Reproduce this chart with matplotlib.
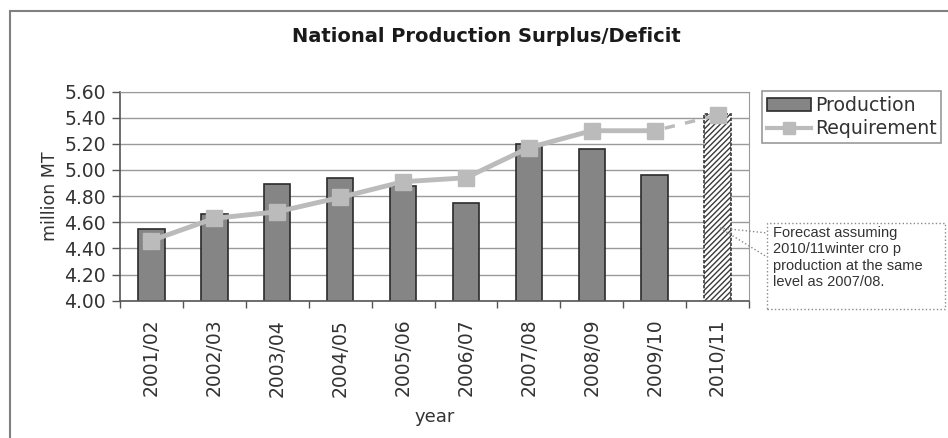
import matplotlib
matplotlib.use("Agg")
import matplotlib.pyplot as plt
from matplotlib.patches import Rectangle, Patch
from matplotlib.lines import Line2D

# data
years = ["2001/02", "2002/03", "2003/04", "2004/05", "2005/06",
         "2006/07", "2007/08", "2008/09", "2009/10", "2010/11"]
production = [4.55, 4.66, 4.89, 4.94, 4.88, 4.75, 5.20, 5.16, 4.96, 5.43]
requirement = [4.46, 4.63, 4.68, 4.79, 4.91, 4.94, 5.17, 5.30, 5.30, 5.42]
yticks = [4.00, 4.20, 4.40, 4.60, 4.80, 5.00, 5.20, 5.40, 5.60]

W, H = 948, 438
fig = plt.figure(figsize=(W / 100, H / 100), dpi=100)
fig.patch.set_facecolor("white")

def fx(px):
    return px / W

def fy(py):
    return 1 - py / H

# outer chart frame (right and bottom run off the picture)
fig.add_artist(Rectangle((fx(10), fy(460)), 1.2, fy(11) - fy(460),
                         transform=fig.transFigure, fill=False,
                         edgecolor="#808080", lw=1.5))

ax = fig.add_axes([fx(120), fy(300.7), fx(749) - fx(120), fy(91.5) - fy(300.7)])
x = list(range(len(years)))

# bars: last one is the forecast (hatched)
ax.bar(x[:-1], production[:-1], width=0.42, color="#858585",
       edgecolor="#2b2b2b", lw=1.2, zorder=2)
ax.bar(x[-1], production[-1], width=0.42, color="white", edgecolor="#3a3a3a",
       hatch="//////", lw=1.2, linestyle=(0, (2, 1)), zorder=2)

# requirement line
ax.plot(x[:-1], requirement[:-1], color="#bbbbbb", lw=3.5, marker="s",
        markersize=11, zorder=3)
ax.plot(x[-2:], requirement[-2:], color="#bbbbbb", lw=2.5,
        linestyle=(3, (3, 3)), zorder=3)
ax.plot(x[-1], requirement[-1], color="#bbbbbb", marker="s", markersize=11,
        linestyle="none", zorder=3)

ax.set_ylim(4.0, 5.6)
ax.set_xlim(-0.5, len(years) - 0.5)
ax.set_yticks(yticks)
ax.set_yticklabels(["%.2f" % v for v in yticks], fontsize=13.5, color="#333333")
ax.set_xticks(x)
ax.set_xticklabels(years, rotation=90, fontsize=13.5, color="#333333")
ax.set_xticks([i - 0.5 for i in range(len(years) + 1)], minor=True)
ax.tick_params(axis="x", which="major", length=0, pad=13)
ax.tick_params(axis="x", which="minor", length=5, width=1, color="#555555")
ax.tick_params(axis="y", length=6, width=1, color="#555555", pad=4)
ax.grid(axis="y", color="#9a9a9a", lw=1, zorder=0)
ax.set_axisbelow(True)
for s in ["top", "right"]:
    ax.spines[s].set_color("#9a9a9a")
for s in ["left", "bottom"]:
    ax.spines[s].set_color("#555555")
    ax.spines[s].set_linewidth(1.2)

ax.set_ylabel("million MT", fontsize=12.5, color="#333333", labelpad=4)
ax.set_xlabel("year", fontsize=13, color="#333333", labelpad=8)

fig.text(fx(486), fy(37), "National Production Surplus/Deficit",
         ha="center", va="center", fontsize=14, fontweight="bold",
         color="#1a1a1a")

handles = [Patch(facecolor="#858585", edgecolor="#2b2b2b", lw=1.2),
           Line2D([], [], color="#bbbbbb", lw=3, marker="s", markersize=8)]
leg = fig.legend(handles, ["Production", "Requirement"], loc="upper left",
                 bbox_to_anchor=(fx(762), fy(91)), fontsize=13.6,
                 frameon=True, fancybox=False, borderpad=0.25,
                 handlelength=2.35, handletextpad=0.2, labelspacing=0.25,
                 borderaxespad=0)
leg.get_frame().set_edgecolor("#808080")
leg.get_frame().set_linewidth(1.2)
for t in leg.get_texts():
    t.set_color("#333333")

# forecast note with dotted callout
fig.add_artist(Rectangle((fx(767), fy(309)), fx(945) - fx(767), fy(223) - fy(309),
                         transform=fig.transFigure, fill=False,
                         edgecolor="#8a8a8a", lw=1, linestyle=":"))
for py in (233, 257):
    fig.add_artist(Line2D([fx(720), fx(767)], [fy(228), fy(py)],
                          transform=fig.transFigure, color="#8a8a8a",
                          lw=1, linestyle=":"))
fig.text(fx(773), fy(226), "Forecast assuming\n2010/11winter cro p\n"
         "production at the same\nlevel as 2007/08.",
         ha="left", va="top", fontsize=10.5, family="Liberation Sans",
         color="#333333", linespacing=1.22)

fig.savefig("out.png", dpi=100)
